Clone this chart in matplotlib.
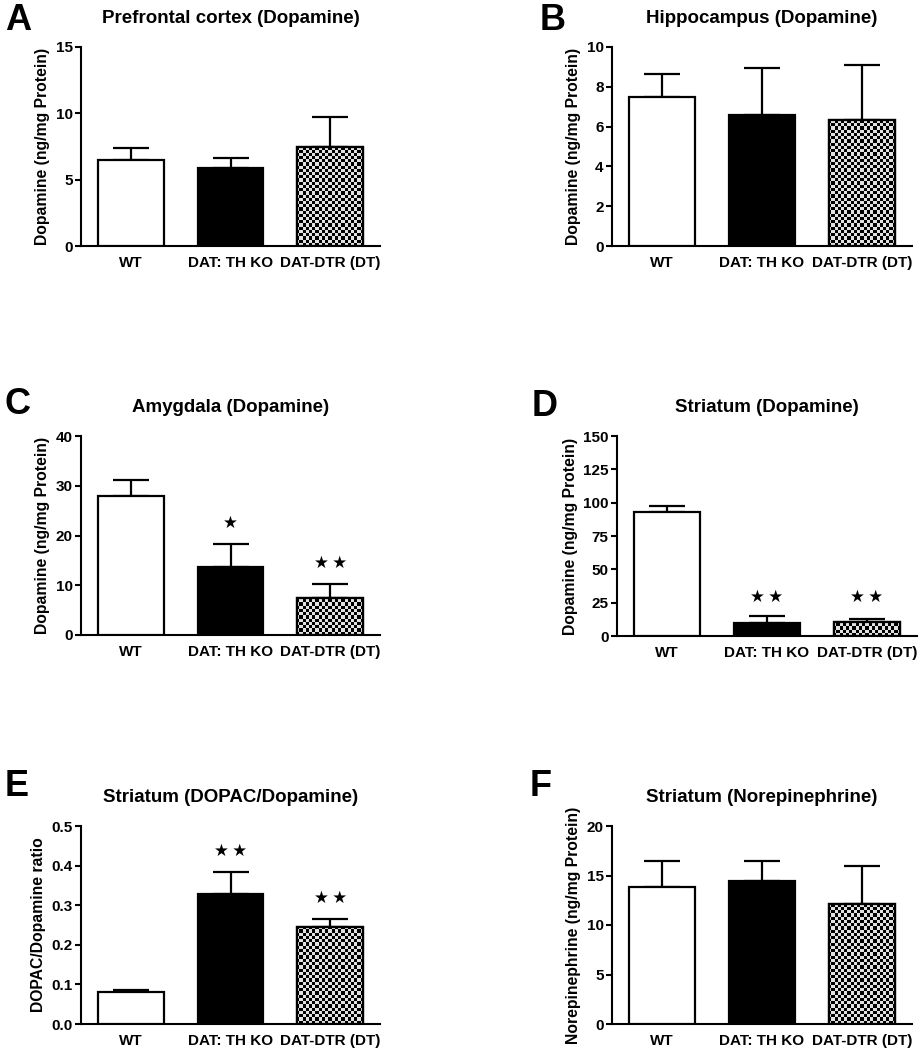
import numpy as np
import matplotlib
matplotlib.use("Agg")
import matplotlib.pyplot as plt

plt.rcParams['font.family'] = ['Liberation Sans', 'DejaVu Sans']
plt.rcParams['font.weight'] = 'bold'

groups = ['WT', 'DAT: TH KO', 'DAT-DTR (DT)']

# panel data: means and SEM
pfc_da = [6.5, 5.9, 7.45]
pfc_err = [0.85, 0.72, 2.3]
hip_da = [7.47, 6.56, 6.34]
hip_err = [1.15, 2.38, 2.75]
amy_da = [28.0, 13.7, 7.5]
amy_err = [3.1, 4.5, 2.7]
str_da = [93.3, 9.5, 10.5]
str_err = [4.0, 5.7, 2.2]
ratio = [0.0815, 0.3286, 0.2437]
ratio_err = [0.0042, 0.054, 0.0227]
ne = [13.86, 14.43, 12.08]
ne_err = [2.58, 2.08, 3.86]

amy_stars = ['', '★', '★\u2009★']
str_stars = ['', '★\u2009★', '★\u2009★']
ratio_stars = ['', '★\u2009★', '★\u2009★']

panels = [
    ('A', 'Prefrontal cortex (Dopamine)', pfc_da, pfc_err, 15, [0, 5, 10, 15], 'Dopamine (ng/mg Protein)', None, [81, 47, 380, 246], '{:g}'),
    ('B', 'Hippocampus (Dopamine)', hip_da, hip_err, 10, [0, 2, 4, 6, 8, 10], 'Dopamine (ng/mg Protein)', None, [612, 47, 912, 246], '{:g}'),
    ('C', 'Amygdala (Dopamine)', amy_da, amy_err, 40, [0, 10, 20, 30, 40], 'Dopamine (ng/mg Protein)', amy_stars, [81, 436, 380, 635], '{:g}'),
    ('D', 'Striatum (Dopamine)', str_da, str_err, 150, [0, 25, 50, 75, 100, 125, 150], 'Dopamine (ng/mg Protein)', str_stars, [617, 436, 917, 636], '{:g}'),
    ('E', 'Striatum (DOPAC/Dopamine)', ratio, ratio_err, 0.5, [0, 0.1, 0.2, 0.3, 0.4, 0.5], 'DOPAC/Dopamine ratio', ratio_stars, [81, 826, 380, 1024], '{:.1f}'),
    ('F', 'Striatum (Norepinephrine)', ne, ne_err, 20, [0, 5, 10, 15, 20], 'Norepinephrine (ng/mg Protein)', None, [612, 826, 912, 1024], '{:g}'),
]
star_pos = {'C': [0, 22.6, 14.4], 'D': [0, 29.5, 29.5], 'E': [0, 0.436, 0.3185]}
letter_xy = {'A': (5, 20), 'B': (540, 20), 'C': (5, 404), 'D': (532, 406), 'E': (5, 787), 'F': (530, 787)}

W, H = 923, 1050
fig = plt.figure(figsize=(W / 100, H / 100), dpi=100)

for letter, title, vals, errs, ymax, ticks, ylab, stars, box, fmt in panels:
    l, t, r, b = box
    ax = fig.add_axes([l / W, 1 - b / H, (r - l) / W, (b - t) / H])
    x = np.arange(3)
    bars = ax.bar(x, vals, width=0.66, color=['white', 'black', 'white'],
                  edgecolor='black', linewidth=1.6, zorder=3)
    ax.errorbar(x, vals, yerr=[np.zeros(3), errs], fmt='none', ecolor='black',
                elinewidth=1.6, capsize=13, capthick=1.6, zorder=2)
    ax.set_xlim(-0.5, 2.5)
    ax.set_ylim(0, ymax)
    # checkerboard fill for the DT bar
    ny, nx = int((b - t) / 3.2), int((r - l) / 3.2)
    checker = (np.indices((ny, nx)).sum(axis=0) % 2) * 0.88
    im = ax.imshow(checker, cmap='gray', vmin=0, vmax=1, extent=(-0.5, 2.5, 0, ymax),
                   aspect='auto', interpolation='nearest', zorder=3.5)
    im.set_clip_path(bars[2])
    edge = plt.Rectangle((x[2] - 0.33, 0), 0.66, vals[2], fill=False,
                         edgecolor='black', linewidth=1.6, zorder=4)
    ax.add_patch(edge)

    ax.spines['top'].set_visible(False)
    ax.spines['right'].set_visible(False)
    ax.spines['left'].set_linewidth(1.5)
    ax.spines['bottom'].set_linewidth(1.5)
    ax.set_xticks(x)
    ax.set_xticklabels(groups, fontsize=11, fontweight='bold')
    for lbl in ax.get_xticklabels():
        lbl.set_verticalalignment('baseline')
    ax.tick_params(axis='x', length=0, pad=15)
    ax.set_yticks(ticks)
    ax.set_yticklabels([fmt.format(v) for v in ticks], fontsize=11, fontweight='bold')
    ax.tick_params(axis='y', length=4, width=1.5, pad=2)
    ax.set_ylabel(ylab, fontsize=11.3, fontweight='bold', labelpad=4)
    ax.set_title(title, fontsize=13.5, fontweight='bold', pad=17)
    if stars:
        for xi, s, yv in zip(x, stars, star_pos[letter]):
            if s:
                ax.text(xi, yv, s, ha='center', va='center', fontsize=12,
                        family=['DejaVu Sans'])
    lx, ly = letter_xy[letter]
    fig.text(lx / W, 1 - ly / H, letter, fontsize=26,
             fontweight='bold', ha='left', va='center')

fig.savefig('out.png', dpi=100)
